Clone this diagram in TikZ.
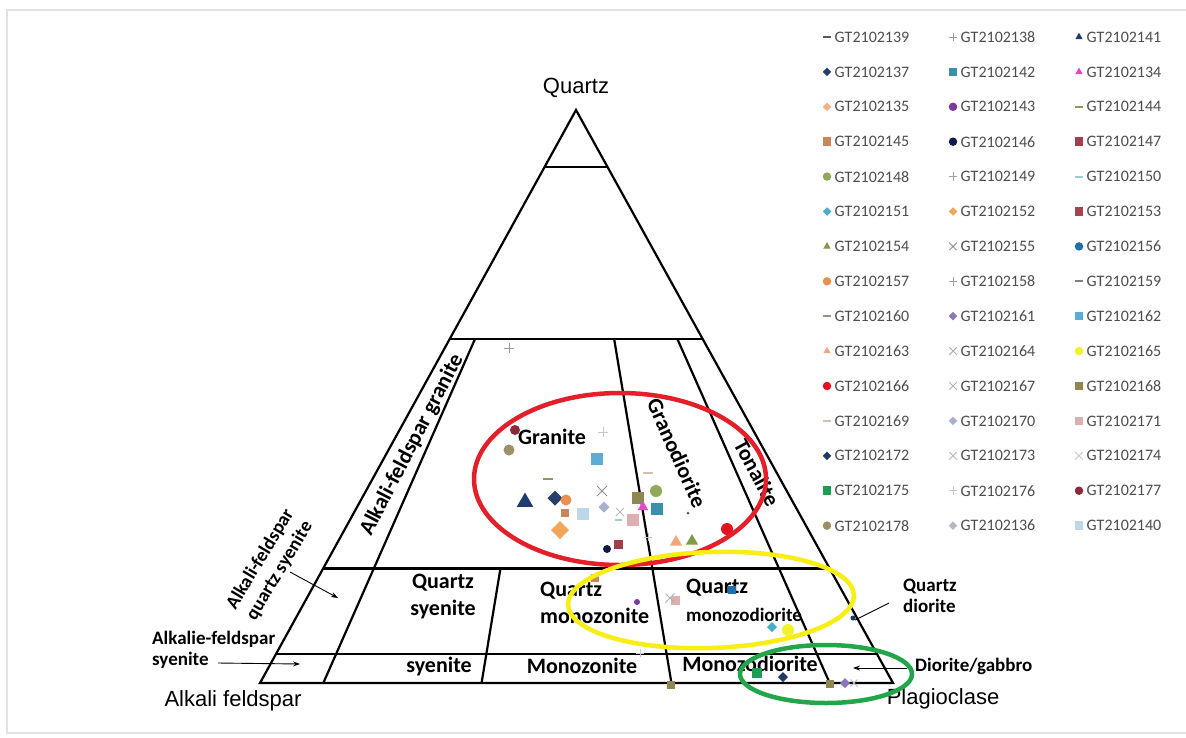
\documentclass[tikz,border=0pt]{standalone}
\usepackage{fontspec}
\setmainfont{Carlito}
\newfontfamily\arialf{Liberation Sans}
\usetikzlibrary{shapes.geometric,shapes.misc,calc,arrows.meta}
% colours
\definecolor{framegray}{HTML}{E2E2E2}
\definecolor{legtxt}{HTML}{4D4D4D}
\definecolor{ellred}{HTML}{E3202A}
\definecolor{ellyel}{HTML}{F8EE14}
\definecolor{ellgrn}{HTML}{23A64A}
\definecolor{c139}{HTML}{595959}
\definecolor{c137}{HTML}{24406A}
\definecolor{c135}{HTML}{F4B183}
\definecolor{c145}{HTML}{C8865A}
\definecolor{c148}{HTML}{8FA859}
\definecolor{c151}{HTML}{4BACC6}
\definecolor{c154}{HTML}{7E9B45}
\definecolor{c157}{HTML}{E8904F}
\definecolor{c160}{HTML}{8A9A80}
\definecolor{c163}{HTML}{F2A679}
\definecolor{c166}{HTML}{E3121E}
\definecolor{c169}{HTML}{D8BFA8}
\definecolor{c172}{HTML}{1F3A5F}
\definecolor{c175}{HTML}{1E9E55}
\definecolor{c178}{HTML}{9C9166}
\definecolor{c138}{HTML}{9A9A9A}
\definecolor{c142}{HTML}{3B8FAA}
\definecolor{c143}{HTML}{7A3A9A}
\definecolor{c146}{HTML}{0F1A4A}
\definecolor{c149}{HTML}{A0A0A0}
\definecolor{c152}{HTML}{F0A559}
\definecolor{c155}{HTML}{909090}
\definecolor{c158}{HTML}{A0A0A0}
\definecolor{c161}{HTML}{8878B8}
\definecolor{c164}{HTML}{B0B0B0}
\definecolor{c167}{HTML}{B0B0B0}
\definecolor{c170}{HTML}{A8B0D0}
\definecolor{c173}{HTML}{B8B8B8}
\definecolor{c176}{HTML}{C8C8C8}
\definecolor{c136}{HTML}{B8B8C0}
\definecolor{c141}{HTML}{1F3C70}
\definecolor{c134}{HTML}{E448C8}
\definecolor{c144}{HTML}{8A9A5B}
\definecolor{c147}{HTML}{A0404E}
\definecolor{c150}{HTML}{9CCCCC}
\definecolor{c153}{HTML}{A8424E}
\definecolor{c156}{HTML}{1F6EAE}
\definecolor{c159}{HTML}{808080}
\definecolor{c162}{HTML}{5CADD6}
\definecolor{c165}{HTML}{F2F22A}
\definecolor{c168}{HTML}{8E8752}
\definecolor{c171}{HTML}{DCB0B0}
\definecolor{c174}{HTML}{C8C8C8}
\definecolor{c177}{HTML}{8E2A38}
\definecolor{c140}{HTML}{BCD6EA}
\newcounter{mkc}
\newcommand\mk[4]{\stepcounter{mkc}\node[minimum size=#2pt,#1] (mk\arabic{mkc}) at (#3,#4) {};}
\newcommand\leg[4]{\stepcounter{mkc}\node[minimum size=8.5pt,#1] (lm\arabic{mkc}) at (#2,#3) {};\node[legtext] (lt\arabic{mkc}) at (#2+7.5,#3) {#4};}
\begin{document}
\begin{tikzpicture}[x=1pt,y=-1pt,
  edge/.style={line width=2.2pt, line join=miter},
  dotmark/.style={inner sep=0pt, outer sep=0pt, draw=none},
  circ/.style={dotmark, circle, fill=#1},
  sq/.style={dotmark, rectangle, fill=#1},
  dia/.style={dotmark, diamond, fill=#1},
  tri/.style={dotmark, regular polygon, regular polygon sides=3, fill=#1},
  dsh/.style={dotmark, rectangle, fill=#1, minimum height=2pt},
  pls/.style={dotmark, cross out, draw=#1, rotate=45, line width=0.9pt},
  xx/.style={dotmark, cross out, draw=#1, line width=0.9pt},
  legtext/.style={anchor=west, inner sep=0pt, text=legtxt, font=\fontsize{16}{18}\selectfont},
  biglab/.style={inner sep=0pt, font=\bfseries\fontsize{22}{27}\selectfont},
  smalllab/.style={inner sep=0pt, font=\bfseries\fontsize{19}{21.5}\selectfont},
  corner/.style={inner sep=0pt, font=\arialf\fontsize{22}{26}\selectfont},
  pointer/.style={line width=0.9pt, -{Stealth[length=7pt,width=5pt]}},
  ell/.style={line width=4.5pt}]
\useasboundingbox (0,0) rectangle (1186,737);
\fill[white] (0,0) rectangle (1186,737);
\draw[framegray, line width=2pt] (1190,10) -- (7,10) -- (7,733) -- (1190,733);

% ---------- QAP triangle ----------
\coordinate (Q) at (576,110);
\coordinate (A) at (260,683);
\coordinate (P) at (893,683);
\draw[edge] (A) -- (Q) -- (P) -- cycle;
\foreach \f in {0.9,0.6,0.2,0.05}{
  \draw[edge] ($(A)!\f!(Q)$) -- ($(P)!\f!(Q)$);
}
\coordinate (b10) at ($(A)!0.10!(P)$);
\coordinate (b35) at ($(A)!0.35!(P)$);
\coordinate (b65) at ($(A)!0.65!(P)$);
\coordinate (b90) at ($(A)!0.90!(P)$);
\draw[edge] (b10) -- ($(b10)!0.6!(Q)$);
\draw[edge] (b35) -- ($(b35)!0.2!(Q)$);
\draw[edge] (b65) -- ($(b65)!0.6!(Q)$);
\draw[edge] (b90) -- ($(b90)!0.6!(Q)$);

% ---------- corner labels ----------
\node[corner] (lq) at (576,88) {Quartz};
\node[corner] (la) at (233,701) {Alkali feldspar};
\node[corner] (lp) at (943,699) {Plagioclase};

% ---------- field labels ----------
\node[biglab] (granite) at (552,437) {Granite};
\node[biglab, rotate=-66] (grano) at (677,453) {Granodiorite};
\node[biglab, rotate=-62] (tona) at (757,473) {Tonalite};
\node[biglab, rotate=62.6] (afg) at (412,445) {Alkali-feldspar granite};
\node[smalllab, rotate=59, align=center, font=\bfseries\fontsize{19}{22.5}\selectfont] (afqs) at (270,565) {Alkali-feldspar\\quartz syenite};
\node[biglab, align=center] (qs) at (443,597) {Quartz\\syenite};
\node[biglab, align=left, anchor=west] (qm) at (540,603) {Quartz\\monozonite};
\node[biglab, anchor=west] (qmd1) at (686,588) {Quartz};
\node[smalllab, anchor=west] (qmd2) at (686,615) {monozodiorite};
\node[smalllab, align=left, anchor=west] (qd) at (903,596) {Quartz\\diorite};
\node[smalllab, align=left, anchor=west] (afs) at (152,650) {Alkalie-feldspar\\syenite};
\node[biglab] (sy) at (439,666) {syenite};
\node[biglab] (mz) at (582,666) {Monozonite};
\node[biglab] (mzd) at (750,664) {Monozodiorite};
\node[smalllab, anchor=west] (dg) at (915,666) {Diorite/gabbro};

% pointers
\coordinate (afqsT) at (290,572);
\coordinate (afqsH) at (338,598);
\draw[pointer] (afqsT) -- (afqsH);
\coordinate (afsT) at (218,663);
\coordinate (afsH) at (300,664);
\draw[pointer] (afsT) -- (afsH);
\coordinate (qdT) at (889,603);
\coordinate (qdH) at (855,620);
\draw[line width=0.9pt] (qdT) -- (qdH);
\coordinate (dgT) at (907,668);
\coordinate (dgH) at (853,668);
\draw[pointer] (dgT) -- (dgH);

% ---------- data points ----------
\mk{pls=c138}{7}{509}{348}
\mk{circ=c177}{10}{515}{430}
\mk{circ=c178}{11}{509}{450}
\mk{pls=c176}{7}{603}{432}
\mk{sq=c162}{12}{597}{459}
\mk{dsh=c144}{10}{548}{479}
\mk{tri=c141}{19}{525}{502}
\mk{dia=c137}{15}{555}{498}
\mk{circ=c157}{11}{566}{500}
\mk{xx=c155}{10}{602}{491}
\mk{sq=c145}{8}{565}{513}
\mk{sq=c140}{12}{583}{514}
\mk{dia=c170}{11}{604}{507}
\mk{xx=c173}{8}{620}{512}
\mk{dsh=c150}{7}{618}{520}
\mk{sq=c171}{12}{633}{520}
\mk{dia=c152}{18}{560}{530}
\mk{sq=c168}{12}{638}{498}
\mk{circ=c148}{12}{656}{491}
\mk{tri=c134}{12}{643}{507}
\mk{sq=c142}{12}{657}{509}
\mk{dsh=c169}{10}{648}{473}
\mk{circ=c139}{3}{688}{513}
\mk{circ=c166}{12}{727}{529}
\mk{tri=c163}{14}{676}{542}
\mk{tri=c154}{14}{692}{541}
\mk{circ=c146}{8}{607}{549}
\mk{sq=c147}{9}{618}{544}
\mk{pls=c176}{6}{648}{537}
\mk{sq=c145}{8}{595}{578}
\mk{circ=c143}{6}{637}{602}
\mk{sq=c171}{9}{675}{600}
\mk{xx=c164}{9}{670}{598}
\mk{sq=c156}{8}{732}{590}
\mk{dia=c151}{10}{772}{627}
\mk{circ=c165}{12}{788}{630}
\mk{circ=c172}{5}{853}{618}
\mk{pls=c176}{6}{640}{653}
\mk{sq=c168}{8}{671}{685}
\mk{sq=c175}{10}{757}{673}
\mk{dia=c172}{10}{783}{677}
\mk{sq=c168}{8}{830}{684}
\mk{dia=c161}{10}{845}{683}
\mk{xx=c173}{7}{854}{683}

% ---------- ellipses ----------
\draw[ell, ellred] (620,479) ellipse [x radius=146, y radius=86];
\draw[ell, ellyel, rotate around={2:(711,600)}] (711,600) ellipse [x radius=143, y radius=48];
\draw[ell, ellgrn] (826,674) ellipse [x radius=86, y radius=29];

% ---------- legend ----------
\leg{dsh=c139}{827}{37}{GT2102139}
\leg{dia=c137}{827}{71.9}{GT2102137}
\leg{dia=c135}{827}{106.8}{GT2102135}
\leg{sq=c145}{827}{141.7}{GT2102145}
\leg{circ=c148}{827}{176.6}{GT2102148}
\leg{dia=c151}{827}{211.5}{GT2102151}
\leg{tri=c154}{827}{246.4}{GT2102154}
\leg{circ=c157}{827}{281.3}{GT2102157}
\leg{dsh=c160}{827}{316.2}{GT2102160}
\leg{tri=c163}{827}{351.1}{GT2102163}
\leg{circ=c166}{827}{386}{GT2102166}
\leg{dsh=c169}{827}{420.9}{GT2102169}
\leg{dia=c172}{827}{455.8}{GT2102172}
\leg{sq=c175}{827}{490.7}{GT2102175}
\leg{circ=c178}{827}{525.6}{GT2102178}

\leg{pls=c138, minimum size=6pt}{953}{37}{GT2102138}
\leg{sq=c142}{953}{71.9}{GT2102142}
\leg{circ=c143}{953}{106.8}{GT2102143}
\leg{circ=c146}{953}{141.7}{GT2102146}
\leg{pls=c149, minimum size=6pt}{953}{176.6}{GT2102149}
\leg{dia=c152}{953}{211.5}{GT2102152}
\leg{xx=c155, minimum size=7.5pt}{953}{246.4}{GT2102155}
\leg{pls=c158, minimum size=6pt}{953}{281.3}{GT2102158}
\leg{dia=c161}{953}{316.2}{GT2102161}
\leg{xx=c164, minimum size=7.5pt}{953}{351.1}{GT2102164}
\leg{xx=c167, minimum size=7.5pt}{953}{386}{GT2102167}
\leg{dia=c170}{953}{420.9}{GT2102170}
\leg{xx=c173, minimum size=7.5pt}{953}{455.8}{GT2102173}
\leg{pls=c176, minimum size=6pt}{953}{490.7}{GT2102176}
\leg{dia=c136}{953}{525.6}{GT2102136}

\leg{tri=c141}{1079}{37}{GT2102141}
\leg{tri=c134}{1079}{71.9}{GT2102134}
\leg{dsh=c144}{1079}{106.8}{GT2102144}
\leg{sq=c147}{1079}{141.7}{GT2102147}
\leg{dsh=c150}{1079}{176.6}{GT2102150}
\leg{sq=c153}{1079}{211.5}{GT2102153}
\leg{circ=c156}{1079}{246.4}{GT2102156}
\leg{dsh=c159}{1079}{281.3}{GT2102159}
\leg{sq=c162}{1079}{316.2}{GT2102162}
\leg{circ=c165}{1079}{351.1}{GT2102165}
\leg{sq=c168}{1079}{386}{GT2102168}
\leg{sq=c171}{1079}{420.9}{GT2102171}
\leg{xx=c174, minimum size=7.5pt}{1079}{455.8}{GT2102174}
\leg{circ=c177}{1079}{490.7}{GT2102177}
\leg{sq=c140}{1079}{525.6}{GT2102140}
\end{tikzpicture}
\end{document}
